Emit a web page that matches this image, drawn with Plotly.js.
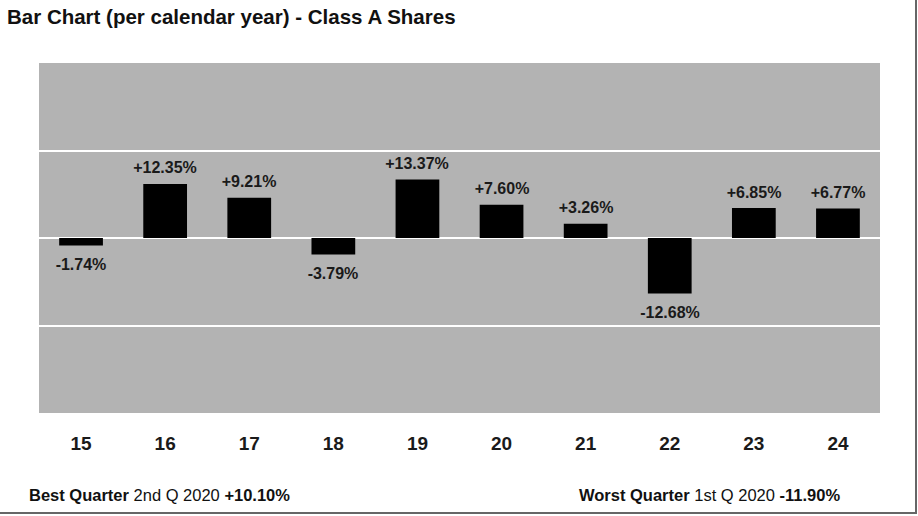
<!DOCTYPE html>
<html>
<head>
<meta charset="utf-8">
<script src="https://cdn.plot.ly/plotly-3.0.1.min.js"></script>
<style>
html,body{margin:0;padding:0;background:#fff;}
#wrap{position:relative;width:918px;height:516px;overflow:hidden;}
#chart{width:918px;height:516px;}
#frame{position:absolute;left:0;top:0;width:915px;height:512px;border-right:2px solid #666;border-bottom:2px solid #666;pointer-events:none;}
</style>
</head>
<body>
<div id="wrap"><div id="chart"></div><div id="frame"></div></div>
<script>
const years = ["15","16","17","18","19","20","21","22","23","24"];
const returns = [-1.74, 12.35, 9.21, -3.79, 13.37, 7.60, 3.26, -12.68, 6.85, 6.77];
const labels = ["-1.74%","+12.35%","+9.21%","-3.79%","+13.37%","+7.60%","+3.26%","-12.68%","+6.85%","+6.77%"];
const yTicks = [-40, -20, 0, 20, 40];

const bg = "#b3b3b3";
const annotations = returns.map((v, i) => ({
  x: i, y: v, xref: "x", yref: "y",
  text: labels[i], showarrow: false,
  yanchor: "middle", yshift: v >= 0 ? 16 : -19,
  font: {family: "Liberation Sans, Arial, sans-serif", size: 16, color: "#1a1a1a", weight: "bold"},
  bgcolor: bg, borderpad: 1, width: 76
}));
const footFont = {family: "Liberation Sans, Arial, sans-serif", size: 16.5, color: "#111"};
annotations.push({
  xref: "paper", yref: "paper", x: -0.0143, y: -0.234, xanchor: "left", yanchor: "middle",
  showarrow: false,
  text: "<b>Best Quarter</b> 2nd Q 2020 <b>+10.10%</b>",
  font: footFont
});
annotations.push({
  xref: "paper", yref: "paper", x: 0.9548, y: -0.234, xanchor: "right", yanchor: "middle",
  showarrow: false,
  text: "<b>Worst Quarter</b> 1st Q 2020 <b>-11.90%</b>",
  font: footFont
});

const trace = {
  type: "bar", x: years, y: returns,
  marker: {color: "#000"}, hoverinfo: "none"
};

const layout = {
  width: 918, height: 516,
  margin: {l: 39, r: 38, t: 63, b: 103},
  paper_bgcolor: "#fff", plot_bgcolor: bg,
  bargap: 0.48,
  showlegend: false,
  title: {
    text: "<b>Bar Chart (per calendar year) - Class A Shares</b>",
    x: 7/918, xanchor: "left", xref: "container",
    y: 1 - 17/516, yanchor: "middle", yref: "container",
    font: {family: "Liberation Sans, Arial, sans-serif", size: 20.5, color: "#111"}
  },
  xaxis: {
    type: "category", range: [-0.5, 9.5],
    showgrid: false, zeroline: false, showline: false,
    ticks: "outside", ticklen: 13, tickcolor: "rgba(0,0,0,0)",
    tickfont: {family: "Liberation Sans, Arial, sans-serif", size: 19, color: "#1a1a1a", weight: "bold"},
    fixedrange: true
  },
  yaxis: {
    range: [-40, 40], tickvals: yTicks, showticklabels: false,
    showgrid: true, gridcolor: "#fff", gridwidth: 2,
    zeroline: true, zerolinecolor: "#fff", zerolinewidth: 2,
    showline: false, fixedrange: true
  },
  annotations: annotations
};

Plotly.newPlot("chart", [trace], layout, {displayModeBar: false, staticPlot: true});
</script>
</body>
</html>
